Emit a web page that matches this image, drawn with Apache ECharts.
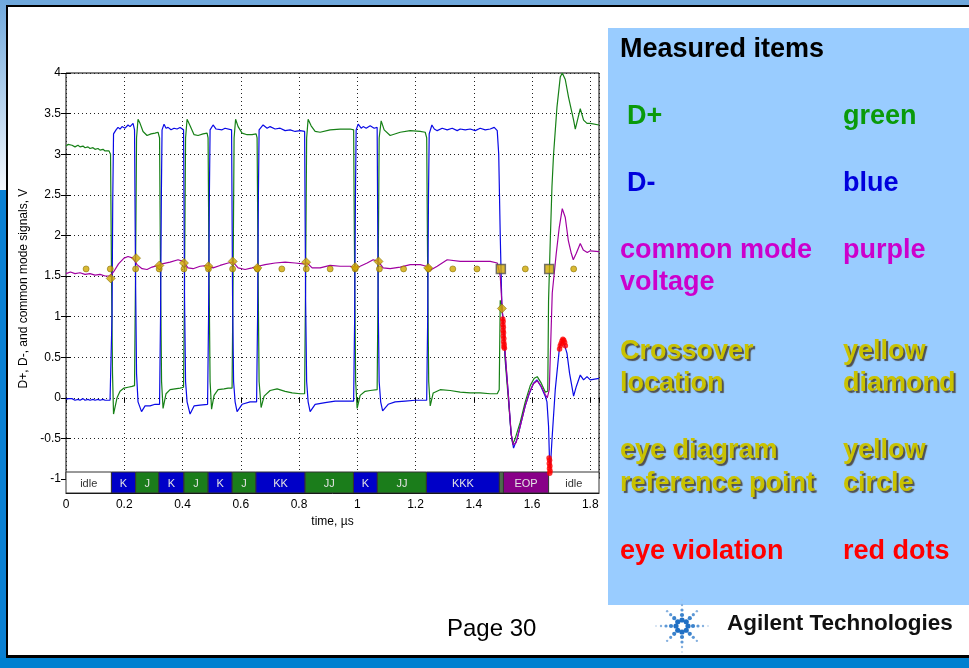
<!DOCTYPE html>
<html><head><meta charset="utf-8">
<script src="https://cdn.jsdelivr.net/npm/echarts@6/dist/echarts.min.js"></script>
<style>
html,body{margin:0;padding:0;}
body{width:969px;height:668px;position:relative;overflow:hidden;background:#fff;}
.f{position:absolute;}
#c{position:absolute;left:0;top:0;width:969px;height:668px;}
</style></head><body>
<div class="f" style="left:0;top:0;width:969px;height:6px;background:#6fa8dc"></div>
<div class="f" style="left:0;top:0;width:7px;height:190px;background:linear-gradient(#6fa8dc,#f4f8fd)"></div>
<div class="f" style="left:0;top:190px;width:7px;height:478px;background:#0a80d2"></div>
<div class="f" style="left:6px;top:5px;width:963px;height:2px;background:#000"></div>
<div class="f" style="left:6px;top:5px;width:2px;height:652px;background:#000"></div>
<div class="f" style="left:6px;top:655px;width:963px;height:3px;background:#000"></div>
<div class="f" style="left:0;top:658px;width:969px;height:10px;background:#0080d0"></div>
<div id="c"></div>
<script>
// ---- data (time in µs, voltage in V) ----
const dPlus = [[0,3.10],[0.0069,3.12],[0.0137,3.10],[0.0206,3.11],[0.0309,3.09],[0.0412,3.11],[0.0481,3.09],[0.0584,3.10],[0.0653,3.08],[0.0755,3.09],[0.0824,3.07],[0.0927,3.08],[0.0996,3.06],[0.1099,3.07],[0.1168,3.05],[0.1271,3.06],[0.134,3.04],[0.1408,3.06],[0.1477,3.04],[0.1529,3.0],[0.1563,1.5],[0.1597,0.3],[0.1632,-0.2],[0.1683,-0.18],[0.1752,0.0],[0.1855,0.08],[0.1992,0.12],[0.213,0.13],[0.2267,0.14],[0.2353,0.15],[0.2387,1.5],[0.2422,3.2],[0.2473,3.43],[0.2542,3.38],[0.2645,3.28],[0.2783,3.23],[0.292,3.25],[0.3057,3.26],[0.316,3.27],[0.3212,3.2],[0.3246,1.5],[0.3281,0.2],[0.3332,-0.13],[0.3435,0.05],[0.3573,0.1],[0.3744,0.11],[0.3916,0.12],[0.4036,0.13],[0.4071,1.5],[0.4105,3.2],[0.4157,3.43],[0.426,3.35],[0.4397,3.24],[0.4534,3.23],[0.4706,3.25],[0.4844,3.26],[0.4878,3.2],[0.4912,1.5],[0.4947,0.2],[0.4998,-0.14],[0.5084,0.03],[0.5221,0.1],[0.5428,0.11],[0.5565,0.12],[0.5702,0.12],[0.5737,1.5],[0.5771,3.2],[0.5823,3.43],[0.5909,3.34],[0.6046,3.26],[0.6218,3.24],[0.639,3.24],[0.6527,3.25],[0.6561,3.2],[0.6596,1.5],[0.663,0.2],[0.6699,-0.12],[0.6802,0.02],[0.7008,0.09],[0.7249,0.11],[0.7524,0.08],[0.7764,0.06],[0.8038,0.05],[0.8193,0.05],[0.8227,1.5],[0.8262,3.2],[0.8313,3.43],[0.8416,3.35],[0.8554,3.28],[0.8725,3.27],[0.9069,3.30],[0.9412,3.31],[0.9756,3.31],[0.9876,3.30],[0.9911,1.5],[0.9945,0.2],[0.9996,-0.13],[1.0099,0.03],[1.0271,0.08],[1.0443,0.09],[1.0683,0.10],[1.0718,1.5],[1.0752,3.2],[1.0821,3.41],[1.0924,3.30],[1.113,3.23],[1.1474,3.27],[1.1817,3.29],[1.2161,3.28],[1.2333,3.27],[1.2384,3.2],[1.2419,1.5],[1.2453,0.2],[1.2505,-0.10],[1.2608,0.06],[1.2848,0.10],[1.3191,0.09],[1.3535,0.07],[1.3878,0.06],[1.4222,0.06],[1.4565,0.05],[1.4806,0.05],[1.4874,0.10],[1.4909,1.20],[1.496,1.15],[1.5011,0.90],[1.508,0.45],[1.5183,0.0],[1.5287,-0.45],[1.5338,-0.57],[1.5424,-0.50],[1.5596,-0.30],[1.5767,-0.05],[1.5939,0.15],[1.6076,0.24],[1.618,0.26],[1.6317,0.18],[1.6455,0.07],[1.6541,0.08],[1.6568,1.20],[1.6627,1.94],[1.6685,2.60],[1.674,3.00],[1.6857,3.58],[1.697,3.95],[1.7039,4.0],[1.7142,3.92],[1.7255,3.70],[1.7428,3.42],[1.7486,3.31],[1.7657,3.56],[1.7771,3.42],[1.7888,3.38],[1.8,3.38],[1.83,3.36]];
const dMinus = [[0,-0.02],[0.0069,-0.01],[0.0137,-0.03],[0.0206,-0.01],[0.0309,-0.03],[0.0412,-0.02],[0.0481,-0.03],[0.0584,-0.01],[0.0653,-0.03],[0.0755,-0.02],[0.0824,-0.03],[0.0927,-0.02],[0.0996,-0.03],[0.1099,-0.02],[0.1168,-0.03],[0.1271,-0.02],[0.134,-0.03],[0.1512,-0.03],[0.1563,-0.05],[0.158,1.0],[0.1604,2.4],[0.1632,3.25],[0.1718,3.30],[0.1786,3.33],[0.1855,3.31],[0.1924,3.34],[0.2027,3.32],[0.213,3.36],[0.2199,3.34],[0.2302,3.38],[0.2353,3.30],[0.2387,1.5],[0.2422,0.3],[0.2473,-0.05],[0.2594,-0.17],[0.2714,-0.10],[0.2886,-0.10],[0.3057,-0.08],[0.3212,-0.08],[0.3246,1.0],[0.3274,2.5],[0.3298,3.30],[0.3366,3.37],[0.3435,3.32],[0.3504,3.33],[0.3607,3.30],[0.371,3.32],[0.3813,3.31],[0.3916,3.33],[0.4036,3.30],[0.4071,1.2],[0.4105,0.2],[0.4157,-0.05],[0.426,-0.20],[0.4397,-0.10],[0.4603,-0.09],[0.4861,-0.08],[0.4895,1.0],[0.4923,2.5],[0.4947,3.30],[0.505,3.36],[0.5153,3.31],[0.5221,3.33],[0.5359,3.30],[0.5462,3.32],[0.5685,3.30],[0.572,1.2],[0.5754,0.2],[0.5806,-0.05],[0.5874,-0.17],[0.6046,-0.08],[0.6321,-0.05],[0.6544,-0.05],[0.6578,1.0],[0.6606,2.5],[0.663,3.30],[0.6767,3.36],[0.6905,3.32],[0.7008,3.34],[0.718,3.31],[0.7352,3.32],[0.7524,3.29],[0.7695,3.30],[0.7867,3.28],[0.8038,3.29],[0.8193,3.28],[0.8227,1.2],[0.8262,0.2],[0.8313,-0.05],[0.8382,-0.17],[0.8554,-0.08],[0.8897,-0.06],[0.9241,-0.04],[0.9584,-0.04],[0.9876,-0.04],[0.9911,1.0],[0.9938,2.5],[0.9962,3.30],[1.0031,3.37],[1.0134,3.32],[1.0203,3.34],[1.0306,3.32],[1.0443,3.35],[1.058,3.32],[1.0683,3.33],[1.0718,1.2],[1.0752,0.2],[1.0804,-0.05],[1.0872,-0.16],[1.1061,-0.08],[1.1302,-0.05],[1.1645,-0.04],[1.1989,-0.03],[1.2384,-0.03],[1.2419,1.0],[1.2446,2.5],[1.247,3.25],[1.2563,3.36],[1.2645,3.31],[1.2745,3.29],[1.2917,3.32],[1.3088,3.30],[1.326,3.32],[1.3432,3.29],[1.3535,3.31],[1.3707,3.30],[1.3878,3.31],[1.405,3.29],[1.4222,3.32],[1.4393,3.30],[1.4565,3.31],[1.4703,3.33],[1.4806,3.29],[1.4857,3.00],[1.4909,2.00],[1.4967,1.10],[1.5011,0.95],[1.508,0.51],[1.5193,0.02],[1.5276,-0.43],[1.5366,-0.62],[1.5407,-0.63],[1.5493,-0.50],[1.5596,-0.35],[1.5767,-0.10],[1.5915,0.06],[1.6053,0.18],[1.6169,0.22],[1.6307,0.14],[1.6455,0.02],[1.6513,-0.05],[1.6568,-0.35],[1.6603,-0.80],[1.6627,-0.88],[1.6685,-0.52],[1.6798,0.10],[1.6946,0.63],[1.7063,0.71],[1.72,0.55],[1.729,0.30],[1.7428,0.02],[1.7521,0.14],[1.7657,0.28],[1.7771,0.22],[1.7888,0.26],[1.8,0.22],[1.83,0.24]];
const commonMode = [[0,1.53],[0.0155,1.55],[0.0309,1.53],[0.0481,1.54],[0.0653,1.52],[0.0824,1.53],[0.0996,1.51],[0.1168,1.52],[0.134,1.50],[0.1512,1.50],[0.1632,1.55],[0.1803,1.65],[0.1992,1.72],[0.213,1.74],[0.2302,1.72],[0.2439,1.64],[0.2611,1.59],[0.2783,1.58],[0.2954,1.61],[0.316,1.63],[0.3298,1.65],[0.3573,1.67],[0.3847,1.70],[0.4019,1.68],[0.4191,1.60],[0.4363,1.59],[0.4603,1.62],[0.4878,1.63],[0.505,1.60],[0.529,1.63],[0.5565,1.66],[0.5737,1.67],[0.5909,1.60],[0.6149,1.58],[0.639,1.60],[0.6596,1.62],[0.6836,1.64],[0.718,1.66],[0.7524,1.67],[0.7867,1.66],[0.8141,1.65],[0.8279,1.66],[0.8451,1.60],[0.8725,1.60],[0.9069,1.63],[0.9412,1.62],[0.9756,1.62],[0.9928,1.60],[1.0099,1.62],[1.034,1.66],[1.0546,1.70],[1.0718,1.68],[1.089,1.60],[1.113,1.59],[1.1474,1.61],[1.1817,1.64],[1.2161,1.64],[1.2367,1.62],[1.2505,1.57],[1.2745,1.62],[1.3088,1.70],[1.3535,1.68],[1.405,1.68],[1.4565,1.68],[1.4806,1.66],[1.4909,1.50],[1.4977,1.10],[1.508,0.55],[1.5183,0.05],[1.5287,-0.45],[1.5355,-0.58],[1.5458,-0.55],[1.5596,-0.35],[1.5767,-0.10],[1.5905,0.06],[1.6042,0.17],[1.618,0.21],[1.6317,0.14],[1.6455,0.04],[1.6524,0.00],[1.6593,0.10],[1.6695,1.29],[1.6833,1.78],[1.6936,2.10],[1.7039,2.33],[1.7142,2.22],[1.7245,1.94],[1.7348,1.78],[1.7417,1.70],[1.7521,1.78],[1.7657,1.90],[1.7761,1.82],[1.7898,1.79],[1.8,1.81],[1.83,1.80]];
const eyeRefPoints = [[0.069,1.587],[0.152,1.587],[0.239,1.587],[0.320,1.587],[0.405,1.587],[0.489,1.587],[0.572,1.587],[0.657,1.587],[0.741,1.587],[0.825,1.587],[0.907,1.587],[0.993,1.587],[1.076,1.587],[1.159,1.587],[1.245,1.587],[1.328,1.587],[1.411,1.587],[1.577,1.587],[1.743,1.587]];
const eyeRefSquares = [[1.493,1.587],[1.659,1.587]];
const crossovers = [[0.1536,1.47],[0.2405,1.72],[0.3205,1.63],[0.405,1.66],[0.489,1.62],[0.5725,1.68],[0.657,1.60],[0.8245,1.67],[0.993,1.61],[1.073,1.68],[1.2435,1.60],[1.4966,1.10]];
const eyeViolations = [[1.4995,0.97],[1.5008,0.94],[1.5001,0.90],[1.5015,0.87],[1.5008,0.83],[1.5022,0.80],[1.5015,0.76],[1.5032,0.73],[1.5025,0.69],[1.5042,0.66],[1.5035,0.63],[1.5052,0.61],
  [1.6586,-0.74],[1.6603,-0.77],[1.6593,-0.81],[1.6613,-0.84],[1.6600,-0.87],[1.6620,-0.90],[1.6607,-0.93],
  [1.6946,0.60],[1.697,0.64],[1.70,0.67],[1.703,0.70],[1.706,0.72],[1.709,0.71],[1.712,0.68],[1.7145,0.64]];
const bandStarts = [0,0.156,0.239,0.3185,0.405,0.488,0.5706,0.652,0.821,0.987,1.069,1.2375,1.488,1.502,1.657];
const bandEnds   = [0.156,0.239,0.3185,0.405,0.488,0.5706,0.652,0.821,0.987,1.069,1.2375,1.488,1.502,1.657,1.83];
const bandLabels = ['idle','K','J','K','J','K','J','KK','JJ','K','JJ','KKK','','EOP','idle'];
const bandStates = ['idle','K','J','K','J','K','J','K','J','K','J','K','X','EOP','idle'];

// ---- styles ----
const stateColor = {idle:'#ffffff', K:'#0000c8', J:'#1b7d1b', X:'#4d6b4d', EOP:'#880088'};
const FONT = '"Liberation Sans", Arial, sans-serif';
const dotted = {color:'#222', width:1, type:[1,3]};

const chart = echarts.init(document.getElementById('c'), null, {renderer:'canvas', width:969, height:668});

// slide decorations
const graphics = [];
graphics.push({type:'rect', shape:{x:608, y:28, width:361, height:577}, style:{fill:'#99ccff'}, silent:true});
const panelLines = [
  {t:'Measured items', x:620, y:50, c:'#000'},
  {t:'D+', x:627, y:117, c:'#0a9a0a'}, {t:'green', x:843, y:117, c:'#0a9a0a'},
  {t:'D-', x:627, y:184, c:'#0000dd'}, {t:'blue', x:843, y:184, c:'#0000dd'},
  {t:'common mode', x:620, y:251, c:'#cc00cc'}, {t:'purple', x:843, y:251, c:'#cc00cc'},
  {t:'voltage', x:620, y:283, c:'#cc00cc'},
  {t:'Crossover', x:620, y:352, c:'#c9c200', s:1}, {t:'yellow', x:843, y:352, c:'#c9c200', s:1},
  {t:'location', x:620, y:384, c:'#c9c200', s:1}, {t:'diamond', x:843, y:384, c:'#c9c200', s:1},
  {t:'eye diagram', x:620, y:451, c:'#c9c200', s:1}, {t:'yellow', x:843, y:451, c:'#c9c200', s:1},
  {t:'reference point', x:620, y:484, c:'#c9c200', s:1}, {t:'circle', x:843, y:484, c:'#c9c200', s:1},
  {t:'eye violation', x:620, y:552, c:'#ff0000'}, {t:'red dots', x:843, y:552, c:'#ff0000'}
];
panelLines.forEach(p => {
  const st = {text:p.t, x:p.x, y:p.y, fill:p.c, font:'bold 27px ' + FONT, align:'left', verticalAlign:'middle'};
  if (p.s) {
    st.textShadowColor = '#505050'; st.textShadowOffsetX = 2; st.textShadowOffsetY = 2; st.textShadowBlur = 1;
    st.shadowColor = '#505050'; st.shadowOffsetX = 2; st.shadowOffsetY = 2; st.shadowBlur = 1;
  }
  graphics.push({type:'text', style:st, silent:true});
});
graphics.push({type:'text', style:{text:'Page 30', x:447, y:629, fill:'#000', font:'24px ' + FONT, align:'left', verticalAlign:'middle'}, silent:true});
graphics.push({type:'text', style:{text:'Agilent Technologies', x:727, y:624, fill:'#111', font:'bold 22.5px ' + FONT, align:'left', verticalAlign:'middle'}, silent:true});
// Agilent spark logo
const cx = 682, cy = 626;
const ringR = [6, 11, 16, 21, 26];
const ringS = [2.6, 2.1, 1.6, 1.2, 0.8];
const ringC = ['#1f6fc4', '#3a82cc', '#5d98d6', '#86b1df', '#a9c6e6'];
for (let a = 0; a < 8; a++) {
  const ang = a * Math.PI / 4;
  const n = (a % 2 === 0) ? 5 : 4;
  for (let k = 0; k < n; k++) {
    graphics.push({type:'circle', shape:{cx: cx + Math.cos(ang) * ringR[k], cy: cy + Math.sin(ang) * ringR[k], r: ringS[k]}, style:{fill: ringC[k]}, silent:true});
  }
}

const option = {
  animation: false,
  backgroundColor: 'transparent',
  graphic: graphics,
  grid: [
    {left:66, top:73, width:533, height:406, show:true, borderColor:'#000', borderWidth:1, backgroundColor:'transparent'},
    {left:66, top:472, width:533, height:21, show:false}
  ],
  xAxis: [
    {type:'value', gridIndex:0, position:'bottom', min:0, max:1.83, interval:0.2,
     axisLine:{show:false}, axisTick:{show:false}, axisLabel:{show:false}, splitLine:{show:true, lineStyle:dotted}},
    {type:'value', gridIndex:0, position:'top', min:0, max:1.83, interval:0.2,
     axisLine:{show:false}, axisTick:{show:true, inside:true, length:5, lineStyle:{color:'#000'}}, axisLabel:{show:false}, splitLine:{show:false}},
    {type:'value', gridIndex:1, position:'bottom', min:0, max:1.83, interval:0.2,
     axisLine:{show:true, lineStyle:{color:'#000'}}, axisTick:{show:false}, splitLine:{show:false},
     axisLabel:{show:true, color:'#000', fontSize:12, fontFamily:FONT, margin:6, showMaxLabel:false},
     name:'time, µs', nameLocation:'middle', nameGap:23, nameTextStyle:{color:'#000', fontSize:12, fontFamily:FONT}}
  ],
  yAxis: [
    {type:'value', gridIndex:0, position:'left', min:-1, max:4, interval:0.5,
     axisLine:{show:false}, axisTick:{show:true, inside:true, length:5, lineStyle:{color:'#000'}},
     axisLabel:{show:true, color:'#000', fontSize:12, fontFamily:FONT, margin:5},
     splitLine:{show:true, lineStyle:dotted},
     name:'D+, D-, and common mode signals, V', nameLocation:'middle', nameGap:32,
     nameTextStyle:{color:'#000', fontSize:12, fontFamily:FONT, padding:[0,25,0,0]}},
    {type:'value', gridIndex:0, position:'right', min:-1, max:4, interval:0.5,
     axisLine:{show:false}, axisTick:{show:true, inside:true, length:5, lineStyle:{color:'#000'}},
     axisLabel:{show:false}, splitLine:{show:false}},
    {type:'value', gridIndex:1, min:0, max:1, show:false}
  ],
  series: [
    {type:'custom', xAxisIndex:2, yAxisIndex:2, silent:true,
     data: bandStarts.map((s, i) => [s, bandEnds[i], i]),
     encode:{x:[0,1]},
     renderItem: function (params, api) {
       const s = api.value(0), e = api.value(1), idx = api.value(2);
       const p0 = api.coord([s, 1]), p1 = api.coord([e, 0]);
       const st = bandStates[idx];
       return {type:'group', children:[
         {type:'rect', shape:{x:p0[0], y:p0[1], width:p1[0]-p0[0], height:p1[1]-p0[1]},
          style:{fill:stateColor[st], stroke:'#333', lineWidth:1}},
         {type:'text', style:{text:bandLabels[idx], x:(p0[0]+p1[0])/2, y:(p0[1]+p1[1])/2 + 1,
          align:'center', verticalAlign:'middle', fill: st === 'idle' ? '#333' : '#e4e4e4', font:'11px ' + FONT}}
       ]};
     }},
    {name:'D+', type:'line', xAxisIndex:0, yAxisIndex:0, data:dPlus, showSymbol:false, symbol:'none',
     lineStyle:{color:'#168016', width:1.2}, z:3},
    {name:'D-', type:'line', xAxisIndex:0, yAxisIndex:0, data:dMinus, showSymbol:false, symbol:'none',
     lineStyle:{color:'#0a0ae6', width:1.2}, z:4},
    {name:'common mode', type:'line', xAxisIndex:0, yAxisIndex:0, data:commonMode, showSymbol:false, symbol:'none',
     lineStyle:{color:'#a000a0', width:1.2}, z:5},
    {name:'eye reference', type:'scatter', xAxisIndex:0, yAxisIndex:0, data:eyeRefPoints, symbol:'circle', symbolSize:6,
     itemStyle:{color:'#cfa700', borderColor:'#7f6a00', borderWidth:0.7}, z:6},
    {name:'eye reference (EOP)', type:'scatter', xAxisIndex:0, yAxisIndex:0, data:eyeRefSquares, symbol:'rect', symbolSize:9,
     itemStyle:{color:'#cfa700', borderColor:'#555', borderWidth:1.5}, z:6},
    {name:'crossover', type:'scatter', xAxisIndex:0, yAxisIndex:0, data:crossovers, symbol:'diamond', symbolSize:9,
     itemStyle:{color:'#cfa700', borderColor:'#7f6a00', borderWidth:0.7}, z:7},
    {name:'eye violation', type:'scatter', xAxisIndex:0, yAxisIndex:0, data:eyeViolations, symbol:'circle', symbolSize:5.5,
     itemStyle:{color:'#ff0000'}, z:8}
  ]
};
chart.setOption(option);
</script>
</body></html>
